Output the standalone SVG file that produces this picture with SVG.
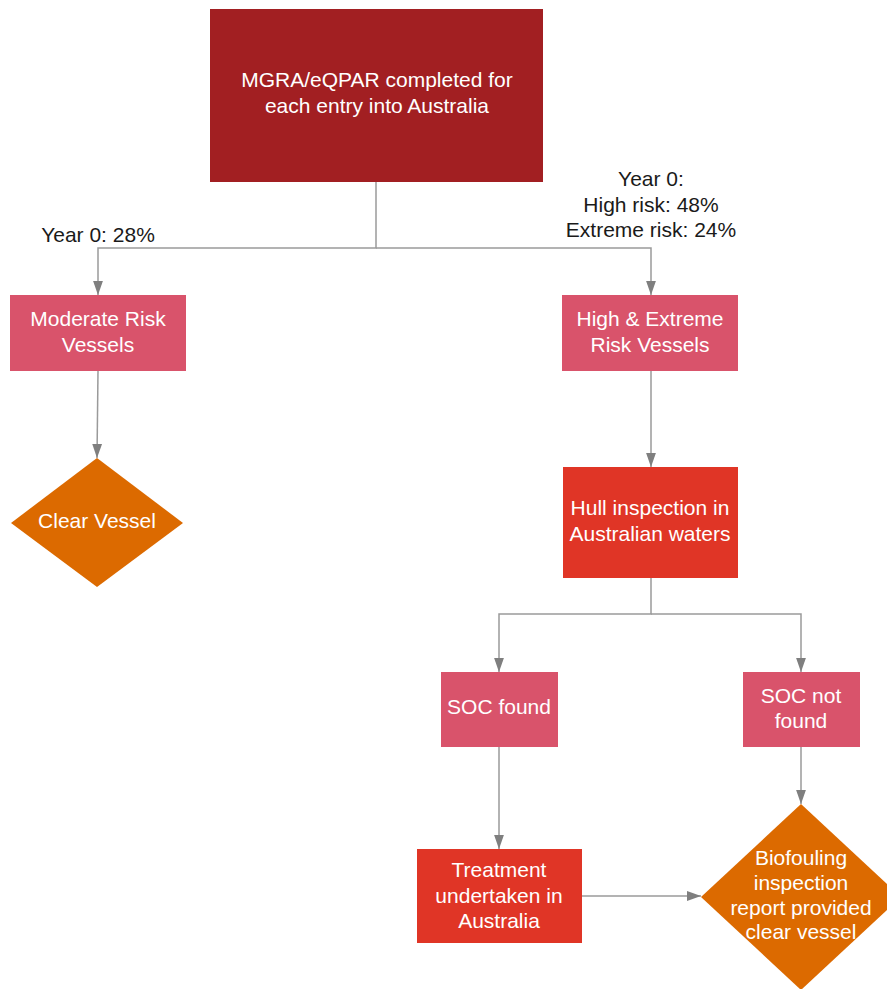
<svg xmlns="http://www.w3.org/2000/svg" width="887" height="989" viewBox="0 0 887 989">
<style>
text{font-family:"Liberation Sans",Arial,sans-serif;font-size:21px;text-anchor:middle}
.w{fill:#ffffff}
.k{fill:#1a1a1a}
.c{fill:none;stroke:#9a9a9a;stroke-width:1.5}
.dark{fill:#a21f22}
.pink{fill:#d9536b}
.red{fill:#e03526}
.orange{fill:#dc6a00}
</style>
<defs>
<marker id="ah" markerWidth="14" markerHeight="20" refX="20" refY="7" viewBox="0 0 20 14" markerUnits="userSpaceOnUse" orient="auto">
<path d="M0,0 L20,7 L0,14 Z" fill="#7f7f7f"/>
</marker>
</defs>
<rect width="887" height="989" fill="#ffffff"/>
<g id="connectors">
<polyline class="c" points="376,182 376,248 98,248 98,295" marker-end="url(#ah)"/>
<polyline class="c" points="376,248 651,248 651,295" marker-end="url(#ah)"/>
<line class="c" x1="98" y1="371" x2="97" y2="458" marker-end="url(#ah)"/>
<line class="c" x1="651" y1="371" x2="651" y2="467" marker-end="url(#ah)"/>
<polyline class="c" points="651,578 651,614 499,614 499,672" marker-end="url(#ah)"/>
<polyline class="c" points="651,614 801,614 801,672" marker-end="url(#ah)"/>
<line class="c" x1="499" y1="747" x2="499" y2="849" marker-end="url(#ah)"/>
<line class="c" x1="801" y1="747" x2="801" y2="804" marker-end="url(#ah)"/>
<line class="c" x1="582" y1="896" x2="701" y2="896" marker-end="url(#ah)"/>
</g>
<g id="labels">
<text class="k" x="98" y="242">Year 0: 28%</text>
<text class="k" x="651" y="186">Year 0:</text>
<text class="k" x="651" y="212">High risk: 48%</text>
<text class="k" x="651" y="237">Extreme risk: 24%</text>
</g>
<g id="n-mgra">
<rect class="dark" x="210" y="9" width="333" height="173"/>
<text class="w" x="377" y="87">MGRA/eQPAR completed for</text>
<text class="w" x="377" y="113">each entry into Australia</text>
</g>
<g id="n-moderate">
<rect class="pink" x="10" y="295" width="176" height="76"/>
<text class="w" x="98" y="326">Moderate Risk</text>
<text class="w" x="98" y="352">Vessels</text>
</g>
<g id="n-high">
<rect class="pink" x="562" y="295" width="176" height="76"/>
<text class="w" x="650" y="326">High &amp; Extreme</text>
<text class="w" x="650" y="352">Risk Vessels</text>
</g>
<g id="n-clear">
<polygon class="orange" points="97,458 183,523 97,587 11,523"/>
<text class="w" x="97" y="528">Clear Vessel</text>
</g>
<g id="n-hull">
<rect class="red" x="563" y="467" width="175" height="111"/>
<text class="w" x="650" y="515">Hull inspection in</text>
<text class="w" x="650" y="541">Australian waters</text>
</g>
<g id="n-socfound">
<rect class="pink" x="441" y="672" width="117" height="75"/>
<text class="w" x="499" y="714">SOC found</text>
</g>
<g id="n-socnotfound">
<rect class="pink" x="743" y="672" width="117" height="75"/>
<text class="w" x="801" y="703">SOC not</text>
<text class="w" x="801" y="728">found</text>
</g>
<g id="n-treatment">
<rect class="red" x="417" y="849" width="165" height="94"/>
<text class="w" x="499" y="877">Treatment</text>
<text class="w" x="499" y="903">undertaken in</text>
<text class="w" x="499" y="928">Australia</text>
</g>
<g id="n-biofouling">
<polygon class="orange" points="801,804 901,897 801,990 701,897"/>
<text class="w" x="801" y="865">Biofouling</text>
<text class="w" x="801" y="890">inspection</text>
<text class="w" x="801" y="915">report provided</text>
<text class="w" x="801" y="939">clear vessel</text>
</g>
</svg>
